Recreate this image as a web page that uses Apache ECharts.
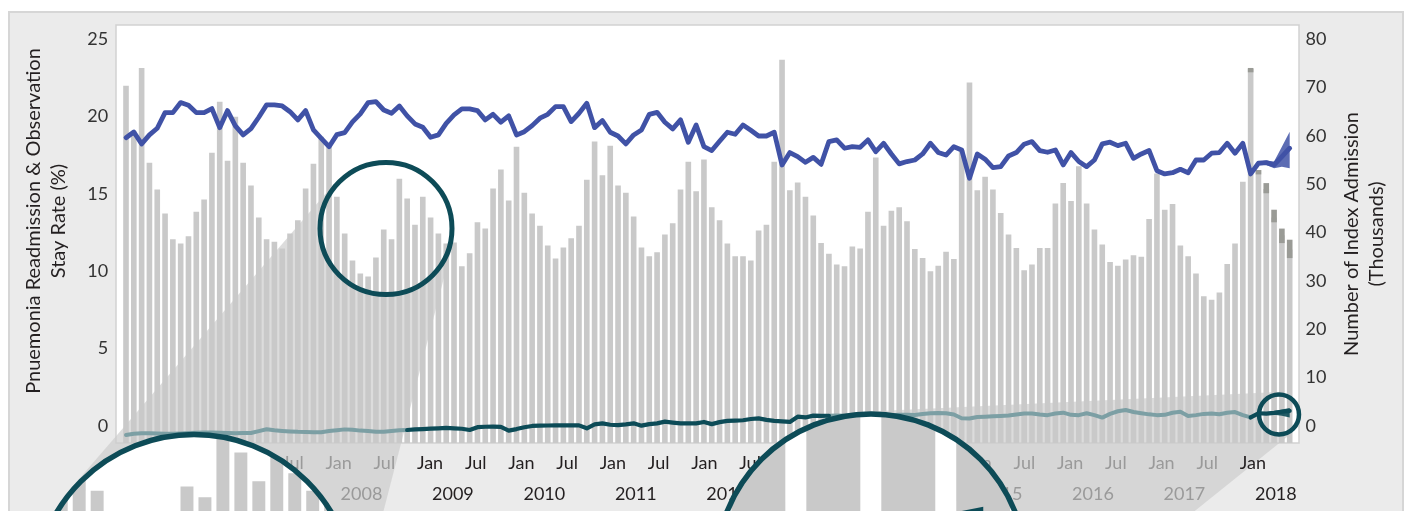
<!DOCTYPE html>
<html>
<head>
<meta charset="utf-8">
<script src="https://cdn.jsdelivr.net/npm/echarts@6/dist/echarts.min.js"></script>
<style>
html,body{margin:0;padding:0;background:#ffffff;}
#chart{width:1409px;height:511px;}
</style>
</head>
<body>
<div id="chart"></div>
<script>
// ---------------- DATA ----------------
const startYear = 2006;
const monthNames = ['Jan','Feb','Mar','Apr','May','Jun','Jul','Aug','Sep','Oct','Nov','Dec'];

// Number of index admissions (thousands), monthly Jan 2006 - Jun 2018
const admissions = [
  70.3, 60.9, 74.0, 54.4, 48.9, 43.9, 38.6, 37.7, 39.2, 44.3,
  46.8, 56.5, 67.0, 54.8, 63.9, 54.4, 49.7, 43.1, 38.6, 38.1,
  36.7, 39.8, 42.5, 49.1, 54.2, 59.8, 57.9, 47.4, 39.8, 34.2,
  31.5, 30.9, 34.8, 40.6, 38.6, 51.1, 47.0, 41.6, 47.4, 43.1,
  39.8, 37.7, 37.9, 33.0, 35.7, 42.1, 40.8, 49.1, 53.0, 46.6,
  57.7, 48.2, 43.9, 41.4, 37.3, 34.6, 36.9, 38.8, 41.4, 50.9,
  58.8, 51.8, 57.9, 49.7, 48.2, 43.3, 36.9, 35.1, 35.9, 39.6,
  41.9, 48.9, 54.6, 48.5, 55.1, 45.2, 42.5, 37.7, 35.1, 35.1,
  34.2, 40.4, 41.6, 54.6, 75.7, 48.7, 50.3, 47.4, 43.5, 37.8,
  35.6, 33.4, 33.0, 37.1, 36.7, 44.3, 55.5, 41.4, 44.5, 45.2,
  42.3, 36.6, 34.7, 32.0, 33.1, 36.0, 34.5, 57.0, 71.0, 48.7,
  51.5, 48.9, 44.0, 39.6, 36.8, 32.2, 33.4, 36.8, 36.8, 46.0,
  50.2, 46.5, 53.7, 46.0, 40.6, 37.5, 33.9, 33.1, 34.4, 35.3,
  35.0, 42.8, 52.2, 44.7, 45.9, 37.3, 35.1, 31.5, 26.8, 26.1,
  27.6, 33.5, 37.7, 50.5, 73.8, 52.9, 49.0, 43.1, 39.4, 36.5
];

// Pneumonia readmission & observation stay rate (%)
const readmitRate = [
  18.62, 18.99, 18.22, 18.80, 19.23, 20.24, 20.24, 20.89, 20.72, 20.24,
  20.24, 20.50, 19.27, 20.37, 19.38, 18.80, 19.20, 19.94, 20.74, 20.74,
  20.67, 20.30, 19.77, 20.37, 19.12, 18.58, 18.04, 18.82, 18.95, 19.64,
  20.16, 20.89, 20.95, 20.41, 20.20, 20.67, 20.03, 19.51, 19.30, 18.65,
  18.80, 19.55, 20.09, 20.48, 20.48, 20.37, 19.77, 20.13, 19.62, 20.03,
  18.80, 19.01, 19.40, 19.88, 20.13, 20.63, 20.63, 19.66, 20.20, 20.84,
  19.27, 19.73, 18.97, 18.73, 18.22, 18.80, 19.12, 20.13, 20.26, 19.62,
  19.19, 19.77, 18.32, 19.44, 18.04, 17.79, 18.39, 18.97, 18.84, 19.44,
  19.10, 18.73, 18.73, 18.97, 16.86, 17.66, 17.40, 17.03, 17.35, 16.90,
  18.37, 18.48, 17.94, 18.04, 18.00, 18.48, 17.72, 18.26, 17.57, 16.93,
  17.08, 17.18, 17.57, 18.26, 17.67, 17.50, 18.04, 17.83, 16.00, 17.57,
  17.23, 16.69, 16.75, 17.44, 17.66, 18.20, 18.37, 17.79, 17.68, 17.83,
  16.86, 17.66, 17.08, 16.75, 17.18, 18.22, 18.33, 18.11, 18.26, 17.29,
  17.57, 17.79, 16.49, 16.28, 16.36, 16.58, 16.36, 17.18, 17.18, 17.62,
  17.66, 18.26, 17.62, 18.26, 16.28, 16.97, 17.01, 16.86, 17.40, 17.94
];

// Lower (teal) series on the same left scale
const obsRate = [
  -0.58, -0.50, -0.47, -0.47, -0.49, -0.50, -0.50, -0.48, -0.46, -0.44,
  -0.42, -0.42, -0.44, -0.46, -0.47, -0.46, -0.45, -0.33, -0.21, -0.28,
  -0.32, -0.35, -0.38, -0.39, -0.41, -0.40, -0.33, -0.28, -0.22, -0.24,
  -0.30, -0.33, -0.37, -0.38, -0.32, -0.27, -0.26, -0.22, -0.20, -0.17,
  -0.15, -0.12, -0.15, -0.18, -0.26, -0.08, -0.05, -0.04, -0.06, -0.30,
  -0.20, -0.08, 0.00, 0.02, 0.03, 0.04, 0.04, 0.04, 0.04, -0.15,
  0.10, 0.17, 0.08, 0.05, 0.10, 0.17, 0.02, 0.12, 0.17, 0.28,
  0.22, 0.17, 0.17, 0.17, 0.26, 0.12, 0.25, 0.33, 0.35, 0.37,
  0.45, 0.49, 0.39, 0.33, 0.30, 0.26, 0.60, 0.55, 0.67, 0.65,
  0.66, 0.68, 0.66, 0.70, 0.68, 0.72, 0.70, 0.68, 0.70, 0.72,
  0.72, 0.71, 0.78, 0.82, 0.84, 0.82, 0.74, 0.50, 0.48, 0.58,
  0.60, 0.63, 0.65, 0.67, 0.74, 0.80, 0.80, 0.74, 0.70, 0.80,
  0.86, 0.72, 0.70, 0.82, 0.70, 0.54, 0.78, 0.95, 1.03, 0.90,
  0.82, 0.75, 0.70, 0.72, 0.85, 0.92, 0.65, 0.70, 0.78, 0.80,
  0.76, 0.85, 0.90, 0.70, 0.55, 0.82, 0.80, 0.85, 0.92, 0.97
];

// Projection ranges for the most recent months
const projIndex    = [144, 145, 146, 147, 148, 149];
const projAdmLow   = [73.1, 52.0, 48.1, 42.1, 37.8, 34.7];
const projAdmHigh  = [74.0, 52.9, 50.2, 44.7, 40.8, 38.5];
const projRateLow  = [16.28, 16.92, 16.86, 16.65, 16.75, 16.65];
const projRateHigh = [16.28, 17.08, 17.14, 17.08, 18.04, 19.00];
const projObsLow   = [0.55, 0.78, 0.74, 0.72, 0.66, 0.55];
const projObsHigh  = [0.55, 0.86, 0.88, 0.96, 1.06, 1.16];

// Highlighted periods (index ranges) and years with dark labels
const highlightSpans = [[36, 90], [144, 149]];
const darkYears = [2009, 2010, 2011, 2012, 2013, 2018];

// Tick labels
const leftTicks  = [0, 5, 10, 15, 20, 25];
const rightTicks = [0, 10, 20, 30, 40, 50, 60, 70, 80];

// ---------------- DERIVED ----------------
const months = admissions.map((_, i) => monthNames[i % 12] + ' ' + (startYear + Math.floor(i / 12)));
const inSpan = (i, strict) => highlightSpans.some(([a, b]) => strict ? (i > a && i < b) : (i >= a && i <= b));
const obsDark  = obsRate.map((v, i) => inSpan(i, false) ? v : null);
const obsLight = obsRate.map((v, i) => inSpan(i, true) ? null : v);

const rateBandLow = months.map(() => null), rateBandSpan = months.map(() => null);
const obsBandLow = months.map(() => null),  obsBandSpan = months.map(() => null);
projIndex.forEach((idx, k) => {
  rateBandLow[idx] = projRateLow[k];
  rateBandSpan[idx] = +(projRateHigh[k] - projRateLow[k]).toFixed(3);
  obsBandLow[idx] = projObsLow[k];
  obsBandSpan[idx] = +(projObsHigh[k] - projObsLow[k]).toFixed(3);
});

// ---------------- STYLE / GEOMETRY ----------------
const FONT = 'Lato, "Open Sans", "DejaVu Sans", sans-serif';
const DARK_TEXT = '#231f20', GRAY_TEXT = '#9a9a9a';
const BAR_COLOR = '#c9c9c9', RANGE_COLOR = '#9a9b96';
const BLUE = '#4052a6', TEAL_DARK = '#0c4b57', TEAL_LIGHT = '#7c9fa4', RING = '#0d4b57';
const BAR_RATIO = 0.72;

const LENSES = [
  { small: {x: 386, y: 228.5, r: 66}, big: {x: 194, y: 594.5, r: 160},
    map: {xc: 399.4, Xc: 223, sx: 2.3, yc: 225, Yc: 481.5, sy: 1.1}, from: 22, to: 44 },
  { small: {x: 1279, y: 414.5, r: 20}, big: {x: 871, y: 569, r: 155},
    map: {xc: 1278, Xc: 871, sx: 9.6, yc: 412, Yc: 545, sy: 9.6}, from: 140, to: 149 }
];
const lensMap = (L, x, y) => [L.map.Xc + (x - L.map.xc) * L.map.sx, L.map.Yc + (y - L.map.yc) * L.map.sy];

function clipColumn(x0, x1, yTop, yBot, c) {
  const n = 16, up = [], lo = [];
  for (let k = 0; k <= n; k++) {
    const x = x0 + (x1 - x0) * k / n, dx = x - c.x;
    if (Math.abs(dx) >= c.r) continue;
    const h = Math.sqrt(c.r * c.r - dx * dx);
    const yt = Math.max(yTop, c.y - h), yb = Math.min(yBot, c.y + h);
    if (yt < yb) { up.push([x, yt]); lo.push([x, yb]); }
  }
  if (up.length < 2) return null;
  return up.concat(lo.reverse());
}

function cone(s, b, pad) {
  const sr = s.r + pad, br = b.r + pad;
  const dx = b.x - s.x, dy = b.y - s.y, d = Math.hypot(dx, dy);
  const ux = dx / d, uy = dy / d, c = (br - sr) / d, sn = Math.sqrt(1 - c * c);
  const n1 = [ux * c - uy * sn, uy * c + ux * sn];
  const n2 = [ux * c + uy * sn, uy * c - ux * sn];
  return [[s.x - sr * n1[0], s.y - sr * n1[1]], [b.x - br * n1[0], b.y - br * n1[1]],
          [b.x - br * n2[0], b.y - br * n2[1]], [s.x - sr * n2[0], s.y - sr * n2[1]]];
}

const lensBarData = [];
LENSES.forEach((L, m) => { for (let i = L.from; i <= L.to; i++) lensBarData.push([i, admissions[i], m]); });

const graphics = [
  {type: 'rect', z: -10, silent: true, shape: {x: 9, y: 12, width: 1394, height: 520},
   style: {fill: '#ebebeb', stroke: '#d6d6d6', lineWidth: 2}},
  {type: 'rect', z: -9, silent: true, shape: {x: 116, y: 25, width: 1183, height: 418},
   style: {fill: '#ffffff', stroke: '#d2d2d2', lineWidth: 1.5}}
];
LENSES.forEach(L => {
  graphics.push({type: 'polygon', z: -8, silent: true, shape: {points: cone(L.small, L.big, 2.5)},
    style: {fill: 'rgba(205,205,205,0.7)'}});
  graphics.push({type: 'circle', z: -7, silent: true, shape: {cx: L.small.x, cy: L.small.y, r: L.small.r},
    style: {fill: '#ffffff'}});
  graphics.push({type: 'circle', z: 5, silent: true, shape: {cx: L.small.x, cy: L.small.y, r: L.small.r},
    style: {fill: 'none', stroke: RING, lineWidth: L.small.r > 40 ? 5 : 4.5}});
  graphics.push({type: 'circle', z: 6, silent: true, shape: {cx: L.big.x, cy: L.big.y, r: L.big.r},
    style: {fill: '#ffffff'}});
  graphics.push({type: 'circle', z: 8, silent: true, shape: {cx: L.big.x, cy: L.big.y, r: L.big.r},
    style: {fill: 'none', stroke: RING, lineWidth: 5.5}});
});

// ---------------- CHART ----------------
const chart = echarts.init(document.getElementById('chart'), null, {renderer: 'canvas', width: 1409, height: 511});

const monthLabelFmt = (value, index) => {
  const y = startYear + Math.floor(index / 12);
  const t = monthNames[index % 12];
  return (darkYears.includes(y) ? '{d|' : '{g|') + t + '}';
};
const yearLabelFmt = (value, index) => {
  const y = startYear + Math.floor(index / 12);
  return (darkYears.includes(y) ? '{d|' : '{g|') + y + '}';
};
const richText = {
  d: {color: DARK_TEXT, fontSize: 18, fontFamily: FONT},
  g: {color: GRAY_TEXT, fontSize: 18, fontFamily: FONT}
};

const option = {
  animation: false,
  backgroundColor: '#ffffff',
  textStyle: {fontFamily: FONT},
  graphic: {elements: graphics},
  grid: [
    {left: 122.1, right: 115.4, top: 25, bottom: 68, outerBoundsMode: 'none'},
    {left: 151.9, right: 114.1, top: 25, bottom: 68, outerBoundsMode: 'none'}
  ],
  xAxis: [
    {type: 'category', gridIndex: 0, data: months, show: false, boundaryGap: true},
    {type: 'category', gridIndex: 1, data: months, boundaryGap: true, position: 'bottom',
     axisLine: {show: false}, axisTick: {show: false}, splitLine: {show: false},
     axisLabel: {interval: (i) => i % 12 === 0 || i % 12 === 6, formatter: monthLabelFmt, rich: richText,
                 margin: 11, fontSize: 18, fontFamily: FONT}},
    {type: 'category', gridIndex: 1, data: months, boundaryGap: true, position: 'bottom', offset: 0,
     axisLine: {show: false}, axisTick: {show: false}, splitLine: {show: false},
     axisLabel: {interval: (i) => i % 12 === 3, formatter: yearLabelFmt, rich: richText,
                 margin: 42, fontSize: 18, fontFamily: FONT}}
  ],
  yAxis: [
    {type: 'value', gridIndex: 0, position: 'left', min: -1.1, max: 25.9,
     axisLine: {show: false}, axisTick: {show: false}, splitLine: {show: false},
     axisLabel: {customValues: leftTicks, formatter: (v) => leftTicks.includes(v) ? String(v) : '',
                 margin: 14, color: '#333', fontSize: 18, fontFamily: FONT},
     name: 'Pnuemonia Readmission & Observation\nStay Rate (%)', nameLocation: 'middle', nameGap: 51,
     nameRotate: 90,
     nameTextStyle: {color: DARK_TEXT, fontSize: 20, lineHeight: 25, fontFamily: FONT, padding: [0, 0, 0, 26]}},
    {type: 'value', gridIndex: 0, position: 'right', min: -3.52, max: 82.88,
     axisLine: {show: false}, axisTick: {show: false}, splitLine: {show: false},
     axisLabel: {customValues: rightTicks, formatter: (v) => rightTicks.includes(v) ? String(v) : '',
                 margin: 12, color: '#333', fontSize: 18, fontFamily: FONT},
     name: 'Number of Index Admission\n(Thousands)', nameLocation: 'middle', nameGap: 45, nameRotate: 90,
     nameTextStyle: {color: DARK_TEXT, fontSize: 20, lineHeight: 25, fontFamily: FONT}},
    {type: 'value', gridIndex: 1, show: false, min: 0, max: 1}
  ],
  series: [
    {
      name: 'Index admissions', type: 'custom', xAxisIndex: 0, yAxisIndex: 1, z: 2,
      data: admissions.map((v, i) => [i, v]), encode: {x: 0, y: 1},
      renderItem: (params, api) => {
        const i = api.value(0), v = api.value(1);
        const top = api.coord([i, v]);
        const w = api.size([1, 0])[0] * BAR_RATIO;
        const bottom = params.coordSys.y + params.coordSys.height;
        return {type: 'rect', shape: {x: top[0] - w / 2, y: top[1], width: w, height: bottom - top[1]},
                style: {fill: BAR_COLOR}};
      }
    },
    {
      name: 'Admissions range', type: 'custom', xAxisIndex: 0, yAxisIndex: 1, z: 2,
      data: projIndex.map((idx, k) => [idx, projAdmLow[k], projAdmHigh[k]]), encode: {x: 0, y: [1, 2]},
      renderItem: (params, api) => {
        const i = api.value(0);
        const hi = api.coord([i, api.value(2)]), lo = api.coord([i, api.value(1)]);
        const w = api.size([1, 0])[0] * BAR_RATIO;
        return {type: 'rect', shape: {x: hi[0] - w / 2, y: hi[1], width: w, height: lo[1] - hi[1]},
                style: {fill: RANGE_COLOR}};
      }
    },
    {name: 'rateBandBase', type: 'line', xAxisIndex: 0, yAxisIndex: 0, stack: 'rb', data: rateBandLow,
     symbol: 'none', lineStyle: {opacity: 0}, z: 3, silent: true},
    {name: 'rateBand', type: 'line', xAxisIndex: 0, yAxisIndex: 0, stack: 'rb', data: rateBandSpan,
     symbol: 'none', lineStyle: {opacity: 0}, areaStyle: {color: BLUE, opacity: 0.85}, z: 3, silent: true},
    {name: 'Readmission & observation stay rate', type: 'line', xAxisIndex: 0, yAxisIndex: 0, data: readmitRate,
     symbol: 'none', lineStyle: {color: BLUE, width: 4.8, cap: 'round', join: 'round'}, z: 4},
    {name: 'Observation (earlier/later)', type: 'line', xAxisIndex: 0, yAxisIndex: 0, data: obsLight,
     symbol: 'none', lineStyle: {color: TEAL_LIGHT, width: 4, cap: 'round', join: 'round'}, z: 4},
    {name: 'obsBandBase', type: 'line', xAxisIndex: 0, yAxisIndex: 0, stack: 'ob', data: obsBandLow,
     symbol: 'none', lineStyle: {opacity: 0}, z: 4, silent: true},
    {name: 'obsBand', type: 'line', xAxisIndex: 0, yAxisIndex: 0, stack: 'ob', data: obsBandSpan,
     symbol: 'none', lineStyle: {opacity: 0}, areaStyle: {color: TEAL_DARK, opacity: 0.9}, z: 4, silent: true},
    {name: 'Observation (highlighted)', type: 'line', xAxisIndex: 0, yAxisIndex: 0, data: obsDark,
     symbol: 'none', lineStyle: {color: TEAL_DARK, width: 4.2, cap: 'round', join: 'round'}, z: 5},
    {
      name: 'Magnified admissions', type: 'custom', xAxisIndex: 0, yAxisIndex: 1, z: 7, clip: false, silent: true,
      data: lensBarData, encode: {x: 0, y: 1},
      renderItem: (params, api) => {
        const i = api.value(0), v = api.value(1), L = LENSES[api.value(2)];
        const top = api.coord([i, v]);
        const w = api.size([1, 0])[0] * BAR_RATIO;
        const bottom = params.coordSys.y + params.coordSys.height;
        const a = lensMap(L, top[0] - w / 2, top[1]);
        const b = lensMap(L, top[0] + w / 2, bottom);
        const pts = clipColumn(a[0], b[0], a[1], b[1], L.big);
        if (!pts) return {type: 'group', children: []};
        return {type: 'polygon', shape: {points: pts}, style: {fill: BAR_COLOR}};
      }
    },
    {
      name: 'Magnified observation band', type: 'custom', xAxisIndex: 0, yAxisIndex: 0, z: 7, clip: false, silent: true,
      data: projIndex.map((idx, k) => [idx, projObsLow[k], projObsHigh[k]]), encode: {x: 0, y: [1, 2]},
      renderItem: (params, api) => {
        const k = params.dataIndex;
        if (k >= projIndex.length - 1) return {type: 'group', children: []};
        const L = LENSES[1];
        const p = (idx, val) => { const c = api.coord([idx, val]); return lensMap(L, c[0], c[1]); };
        const pts = [p(projIndex[k], projObsHigh[k]), p(projIndex[k + 1], projObsHigh[k + 1]),
                     p(projIndex[k + 1], projObsLow[k + 1]), p(projIndex[k], projObsLow[k])];
        return {type: 'polygon', shape: {points: pts}, style: {fill: TEAL_DARK}};
      }
    }
  ]
};
chart.setOption(option);
</script>
</body>
</html>
